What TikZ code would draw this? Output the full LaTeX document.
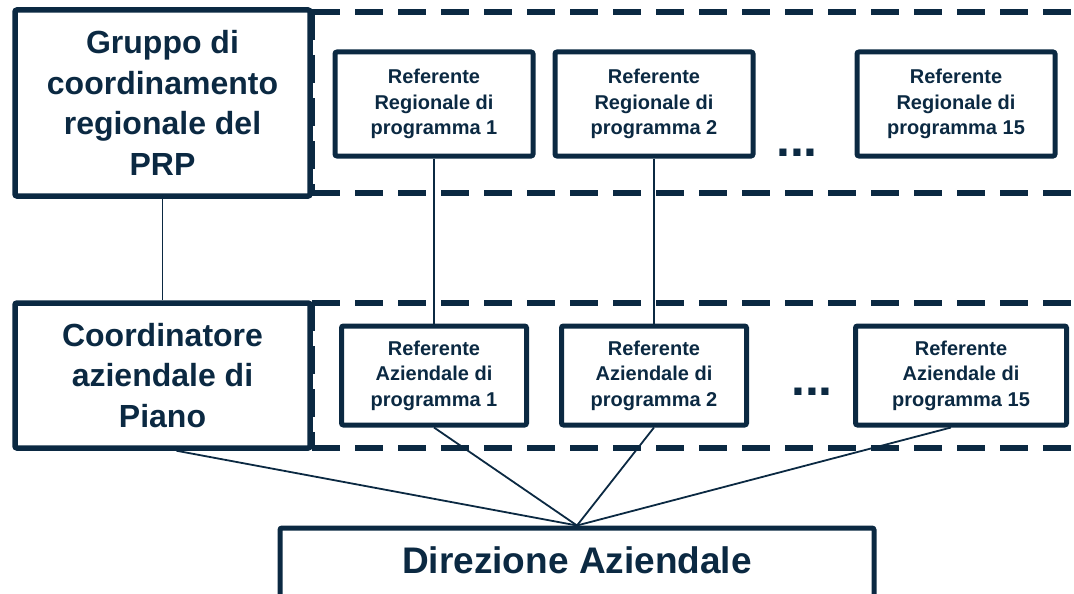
\documentclass[tikz,border=0pt]{standalone}
\usepackage{fontspec}
\setmainfont{Liberation Sans}
\usetikzlibrary{positioning}
\definecolor{navy}{HTML}{0B2942}

\begin{document}
\begin{tikzpicture}[x=1pt,y=-1pt,
            head/.style={draw=navy,line width=5.5pt,rounded corners=2pt,align=center,text=navy,
            font=\bfseries\fontsize{32}{40.5}\selectfont,minimum width=295pt,inner sep=0pt},
            referente/.style={draw=navy,line width=5pt,rounded corners=2pt,align=center,text=navy,
            font=\bfseries\fontsize{20}{25.5}\selectfont,minimum width=198pt,minimum height=104pt,inner sep=0pt},
            aziendale/.style={referente,minimum width=185pt,minimum height=99pt},
            board/.style={draw=navy,line width=5pt,rounded corners=2pt,text=navy,
            font=\bfseries\fontsize{37}{37}\selectfont,minimum width=594pt,
            text height=26pt,text depth=40pt,inner xsep=0pt,inner ysep=19pt},
            dots/.style={text=navy,font=\bfseries\fontsize{50}{50}\selectfont,anchor=base,inner sep=0pt},
            band/.style={navy,line width=5.5pt,dash pattern=on 28pt off 15pt},
            link/.style={navy,line width=1.8pt}]
        \useasboundingbox (0,0) rectangle (1074,594);

        \node[head,minimum height=186pt] (gruppo) at (162.5,103) {Gruppo di\\coordinamento\\regionale del\\PRP};
        \node[head,minimum height=145pt] (coord) [below=101.5pt of gruppo] {Coordinatore\\aziendale di\\Piano};

        \node[referente] (reg1) at (434,104) {Referente\\Regionale di\\programma 1};
        \node[referente] (reg2) [right=17pt of reg1] {Referente\\Regionale di\\programma 2};
        \node[referente] (reg15) [right=99pt of reg2] {Referente\\Regionale di\\programma 15};
        \node[dots] (dotsreg) at (797,156) {...};

        \node[aziendale] (az1) [below=165pt of reg1] {Referente\\Aziendale di\\programma 1};
        \node[aziendale] (az2) [below=165pt of reg2] {Referente\\Aziendale di\\programma 2};
        \node[aziendale,minimum width=211pt] (az15) [below=165pt of reg15,xshift=5pt] {Referente\\Aziendale di\\programma 15};
        \node[dots] (dotsaz) at (812,395) {...};

        \node[board,anchor=north] (direzione) at (577,525.5) {Direzione Aziendale};

        % dashed bands
        \draw[band] (312,12) -- (1120,12);
        \draw[band] (312,193) -- (1120,193);
        \draw[band] (312,12) -- (312,193);
        \draw[band] (312,303) -- (1120,303);
        \draw[band] (312,448) -- (1120,448);
        \draw[band] (312,303) -- (312,448);

        \draw[link] (gruppo.south) -- (coord.north);
        \draw[link] (reg1.south) -- (az1.north);
        \draw[link] (reg2.south) -- (az2.north);
        \draw[link] ([xshift=14pt]coord.south) -- (direzione.north);
        \draw[link] (az1.south) -- (direzione.north);
        \draw[link] (az2.south) -- (direzione.north);
        \draw[link] ([xshift=-10pt]az15.south) -- (direzione.north);
    \end{tikzpicture}
\end{document}
